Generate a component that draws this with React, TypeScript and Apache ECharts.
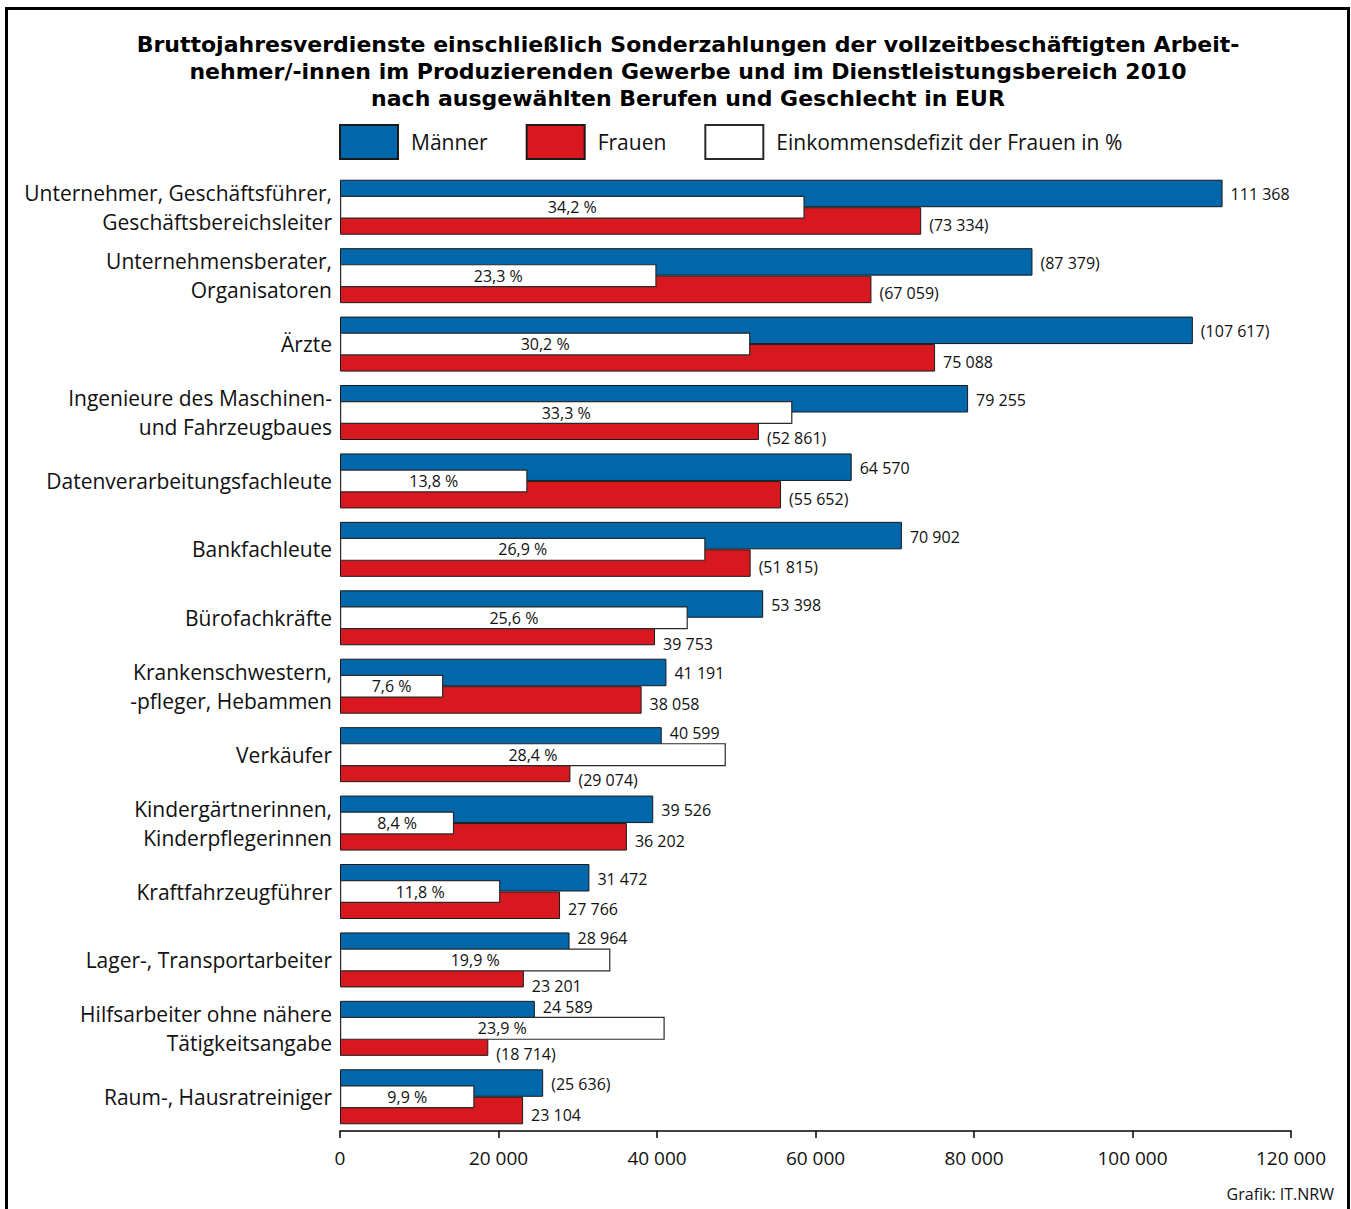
import React, { useEffect, useRef } from "react";
import * as echarts from "echarts";

const categories = [
  "Unternehmer, Geschäftsführer,\nGeschäftsbereichsleiter",
  "Unternehmensberater,\nOrganisatoren",
  "Ärzte",
  "Ingenieure des Maschinen-\nund Fahrzeugbaues",
  "Datenverarbeitungsfachleute",
  "Bankfachleute",
  "Bürofachkräfte",
  "Krankenschwestern,\n-pfleger, Hebammen",
  "Verkäufer",
  "Kindergärtnerinnen,\nKinderpflegerinnen",
  "Kraftfahrzeugführer",
  "Lager-, Transportarbeiter",
  "Hilfsarbeiter ohne nähere\nTätigkeitsangabe",
  "Raum-, Hausratreiniger",
];

const men = [111368, 87379, 107617, 79255, 64570, 70902, 53398, 41191, 40599, 39526, 31472, 28964, 24589, 25636];
const menUncertain = [false, true, true, false, false, false, false, false, false, false, false, false, false, true];
const women = [73334, 67059, 75088, 52861, 55652, 51815, 39753, 38058, 29074, 36202, 27766, 23201, 18714, 23104];
const womenUncertain = [true, true, false, true, true, true, false, false, true, false, false, false, true, false];
const deficitPct = [34.2, 23.3, 30.2, 33.3, 13.8, 26.9, 25.6, 7.6, 28.4, 8.4, 11.8, 19.9, 23.9, 9.9];

const xTicks = [0, 20000, 40000, 60000, 80000, 100000, 120000];

const EUR_MAX = 120000;
const PCT_MAX = 70;

const FONT = "'Open Sans', 'Noto Sans', sans-serif";
const TITLE_FONT = "'DejaVu Sans', 'Liberation Sans', sans-serif";
const BLUE = "#0067ab";
const RED = "#d7191f";

const fmt = (v: number) => String(v).replace(/\B(?=(\d{3})+(?!\d))/g, " ");
const fmtPct = (v: number) => v.toFixed(1).replace(".", ",") + " %";

export default function App() {
  const ref = useRef<HTMLDivElement>(null);

  useEffect(() => {
    if (!ref.current) return;
    const chart = echarts.init(ref.current, undefined, { renderer: "svg" });

    const whiteEq = deficitPct.map((p) => (p * EUR_MAX) / PCT_MAX);

    const labelBase = {
      show: true,
      position: "right" as const,
      distance: 3,
      fontFamily: FONT,
      fontSize: 16,
      color: "#111",
      backgroundColor: "#fff",
      padding: [0, 5, 0, 5],
    };

    const option: any = {
      animation: false,
      backgroundColor: "#fff",
      title: {
        text:
          "Bruttojahresverdienste einschließlich Sonderzahlungen der vollzeitbeschäftigten Arbeit-\nnehmer/-innen im Produzierenden Gewerbe und im Dienstleistungsbereich 2010\nnach ausgewählten Berufen und Geschlecht in EUR",
        left: 688,
        top: 31,
        padding: 0,
        textAlign: "center",
        textStyle: {
          fontFamily: TITLE_FONT,
          fontSize: 22,
          fontWeight: "bold",
          lineHeight: 27,
          color: "#000",
        },
      },
      legend: {
        left: 339,
        top: 124,
        padding: 0,
        itemWidth: 58,
        itemHeight: 34,
        itemGap: 38,
        selectedMode: false,
        icon: "rect",
        data: ["Männer", "Frauen", "Einkommensdefizit der Frauen in %"],
        textStyle: {
          fontFamily: FONT,
          fontSize: 21,
          color: "#111",
          padding: [0, 0, 0, 8],
        },
      },
      grid: { left: 340, right: 60, top: 173, bottom: 78, containLabel: false },
      xAxis: [
        {
          type: "value",
          min: 0,
          max: EUR_MAX,
          interval: 20000,
          axisLine: { show: true, lineStyle: { color: "#000", width: 1.5 } },
          axisTick: { show: true, length: 7, lineStyle: { color: "#000", width: 1.5 } },
          splitLine: { show: false },
          axisLabel: {
            fontFamily: FONT,
            fontSize: 19,
            color: "#111",
            margin: 17,
            formatter: (v: number) => (xTicks.includes(v) ? fmt(v) : ""),
          },
        },
        { type: "value", min: 0, max: PCT_MAX, show: false, gridIndex: 0 },
      ],
      yAxis: [
        {
          type: "category",
          data: categories,
          inverse: true,
          axisLine: { show: false },
          axisTick: { show: false },
          axisLabel: {
            fontFamily: FONT,
            fontSize: 21,
            lineHeight: 29,
            color: "#111",
            margin: 8,
            align: "right",
          },
        },
        { type: "category", data: categories, inverse: true, show: false },
        { type: "category", data: categories, inverse: true, show: false },
      ],
      series: [
        {
          name: "Männer",
          type: "bar",
          xAxisIndex: 0,
          yAxisIndex: 0,
          barWidth: 27.5,
          barGap: "0%",
          z: 2,
          itemStyle: { color: BLUE, borderColor: "#1a1a1a", borderWidth: 1 },
          data: men,
        },
        {
          name: "Frauen",
          type: "bar",
          xAxisIndex: 0,
          yAxisIndex: 0,
          barWidth: 27.5,
          barGap: "0%",
          z: 2,
          itemStyle: { color: RED, borderColor: "#1a1a1a", borderWidth: 1 },
          data: women,
        },
        {
          name: "Einkommensdefizit der Frauen in %",
          type: "bar",
          xAxisIndex: 1,
          yAxisIndex: 1,
          barWidth: 23,
          z: 3,
          itemStyle: { color: "#fff", borderColor: "#2a2a2a", borderWidth: 1.2 },
          label: {
            show: true,
            position: "inside",
            fontFamily: FONT,
            fontSize: 16,
            color: "#111",
            formatter: (p: any) => fmtPct(p.value),
          },
          data: deficitPct,
        },
        {
          name: "menLabels",
          type: "bar",
          xAxisIndex: 0,
          yAxisIndex: 2,
          barWidth: 27.5,
          barGap: "0%",
          z: 4,
          silent: true,
          itemStyle: { color: "rgba(0,0,0,0)" },
          label: { ...labelBase },
          data: men.map((v, i) => ({
            value: v,
            label: {
              offset: [0, whiteEq[i] > v ? -8 : 1],
              formatter: () => (menUncertain[i] ? "(" + fmt(v) + ")" : fmt(v)),
            },
          })),
        },
        {
          name: "womenLabels",
          type: "bar",
          xAxisIndex: 0,
          yAxisIndex: 2,
          barWidth: 27.5,
          barGap: "0%",
          z: 4,
          silent: true,
          itemStyle: { color: "rgba(0,0,0,0)" },
          label: { ...labelBase },
          data: women.map((v, i) => ({
            value: v,
            label: {
              offset: [0, whiteEq[i] > v ? 12 : 4],
              formatter: () => (womenUncertain[i] ? "(" + fmt(v) + ")" : fmt(v)),
            },
          })),
        },
      ],
      graphic: [
        {
          type: "rect",
          left: 4,
          top: 6,
          shape: { x: 0, y: 0, width: 1342, height: 1260 },
          style: { fill: "none", stroke: "#000", lineWidth: 3 },
          silent: true,
          z: 100,
        },
        {
          type: "text",
          right: 17,
          top: 1186,
          style: {
            text: "Grafik: IT.NRW",
            fontFamily: FONT,
            fontSize: 16,
            fill: "#111",
          },
        },
      ],
    };

    chart.setOption(option);
    return () => chart.dispose();
  }, []);

  return (
    <div
      ref={ref}
      style={{ position: "fixed", left: 0, top: 0, width: 1351, height: 1209, background: "#fff" }}
    />
  );
}
